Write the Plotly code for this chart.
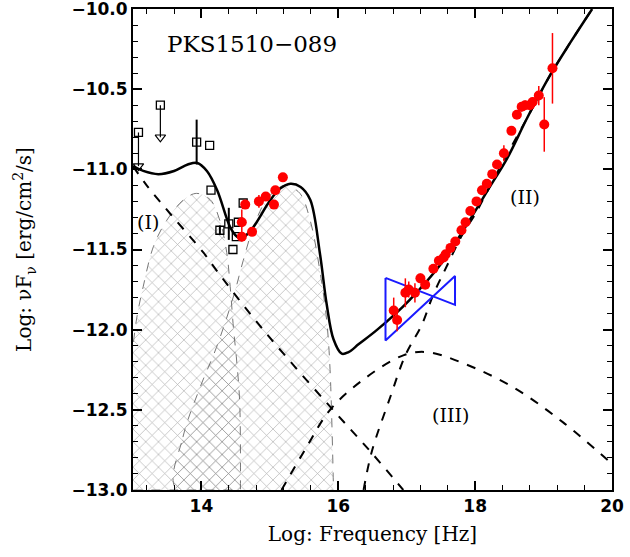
import plotly.graph_objects as go

# ---- data ----
# total model (solid)
tot_x = [13.0, 13.15, 13.37, 13.6, 13.8, 13.94, 14.08, 14.23, 14.42, 14.52, 14.59, 14.68, 14.76, 15.01, 15.15, 15.30, 15.45, 15.59, 15.73, 15.83, 15.93, 16.05, 16.15, 16.3, 16.57, 17.03, 17.52, 17.9, 18.17, 18.47, 18.76, 19.10, 19.39, 19.71]
tot_y = [-10.98, -11.01, -11.03, -11.01, -10.97, -10.96, -11.01, -11.13, -11.36, -11.42, -11.43, -11.40, -11.36, -11.19, -11.12, -11.09, -11.11, -11.19, -11.52, -11.84, -12.06, -12.15, -12.14, -12.09, -12.0, -11.82, -11.58, -11.33, -11.14, -10.93, -10.68, -10.41, -10.21, -10.0]

# component (I) synchrotron (dashed)
c1_x = [13.0, 13.2, 13.55, 14.03, 14.22, 14.71, 15.20, 15.88, 16.47, 16.95]
c1_y = [-10.98, -11.10, -11.28, -11.52, -11.63, -11.90, -12.15, -12.48, -12.76, -13.0]

# component (II) (dashed)
c2_x = [16.37, 16.49, 16.76, 16.98, 17.22, 17.39, 17.59, 17.81, 18.0, 18.2, 18.41, 18.76, 19.10, 19.39, 19.71]
c2_y = [-13.0, -12.76, -12.42, -12.16, -11.97, -11.78, -11.60, -11.41, -11.28, -11.12, -10.95, -10.68, -10.41, -10.21, -10.0]

# component (III) (dashed)
c3_x = [15.17, 15.54, 15.88, 16.37, 16.95, 17.30, 17.83, 18.56, 19.29, 19.98]
c3_y = [-13.0, -12.73, -12.50, -12.31, -12.16, -12.14, -12.21, -12.36, -12.58, -12.83]

# hatched thermal bumps
b1_x = [12.95, 13.05, 13.15, 13.30, 13.49, 13.74, 13.93, 14.13, 14.27, 14.37, 14.42, 14.47, 14.51, 14.56, 14.57]
b1_y = [-12.3, -11.94, -11.73, -11.48, -11.32, -11.19, -11.15, -11.19, -11.32, -11.52, -11.73, -12.0, -12.17, -12.46, -13.0]
b2_x = [13.64, 13.73, 13.98, 14.22, 14.47, 14.61, 14.76, 14.95, 15.15, 15.24, 15.44, 15.59, 15.73, 15.83, 15.88, 15.93]
b2_y = [-13.0, -12.67, -12.36, -12.11, -11.79, -11.57, -11.36, -11.19, -11.11, -11.10, -11.15, -11.32, -11.63, -11.94, -12.25, -13.0]
floor_y = -13.0

# archival data (open squares)
sq_x = [13.93, 14.12, 14.14, 14.27, 14.40, 14.46, 14.51, 14.54, 14.61]
sq_y = [-10.83, -10.85, -11.13, -11.38, -11.34, -11.50, -11.42, -11.33, -11.21]
sq_err = [0.14, 0.0, 0.0, 0.03, 0.10, 0.0, 0.0, 0.0, 0.0]

# upper limits
ul_x = [13.08, 13.40]
ul_y = [-10.77, -10.60]
ul_tip = [-10.98, -10.80]

# optical (red)
opt_x = [14.59, 14.59, 14.64, 14.74, 14.84, 14.94, 15.06, 15.08, 15.19]
opt_y = [-11.42, -11.33, -11.22, -11.39, -11.20, -11.17, -11.22, -11.13, -11.05]
opt_ep = [0.17, 0.0, 0.0, 0.0, 0.04, 0.0, 0.0, 0.0, 0.0]
opt_em = [0.03, 0.0, 0.0, 0.0, 0.04, 0.0, 0.0, 0.0, 0.0]

# X-ray (red)
xr_x = [16.81, 16.86, 16.98, 17.03, 17.12, 17.20, 17.27, 17.39, 17.47, 17.54, 17.57, 17.64, 17.71, 17.80, 17.86, 17.93, 18.02, 18.10, 18.17, 18.25, 18.32, 18.42, 18.53, 18.61, 18.68, 18.73, 18.80, 18.84, 18.93, 19.01, 19.13]
xr_y = [-11.88, -11.94, -11.77, -11.75, -11.77, -11.68, -11.72, -11.62, -11.57, -11.55, -11.53, -11.49, -11.45, -11.38, -11.33, -11.26, -11.20, -11.13, -11.09, -11.03, -10.97, -10.90, -10.76, -10.66, -10.61, -10.60, -10.60, -10.58, -10.54, -10.72, -10.37]
xr_err = [0.08, 0.07, 0.09, 0.05, 0.06, 0.03, 0.02, 0.02, 0.02, 0.02, 0.02, 0.02, 0.02, 0.02, 0.02, 0.02, 0.02, 0.02, 0.02, 0.02, 0.02, 0.05, 0.02, 0.02, 0.03, 0.03, 0.03, 0.03, 0.06, 0.17, 0.22]

# bowtie (spectrum envelope)
bt_x = [16.69, 17.706, 17.706, 16.69, 16.69]
bt_y = [-11.677, -11.845, -11.665, -12.068, -11.677]

x_ticks = [14, 16, 18, 20]
y_ticks = [-13.0, -12.5, -12.0, -11.5, -11.0, -10.5, -10.0]

fig = go.Figure()

hatch = dict(shape="x", size=9, solidity=0.14, fgcolor="#5e5e5e", bgcolor="rgba(0,0,0,0)")
for bx, by in [(b1_x, b1_y), (b2_x, b2_y)]:
    fig.add_trace(go.Scatter(
        x=bx + [bx[-1], bx[0]], y=by + [floor_y, floor_y], mode="lines",
        fill="toself", fillcolor="rgba(0,0,0,0)", fillpattern=hatch,
        line=dict(color="#777777", width=1, dash="dash"), line_shape="spline",
        hoverinfo="skip", showlegend=False))

for cx, cy in [(c1_x, c1_y), (c2_x, c2_y), (c3_x, c3_y)]:
    fig.add_trace(go.Scatter(x=cx, y=cy, mode="lines", line_shape="spline",
                             line=dict(color="black", width=2, dash="dash"), showlegend=False))

fig.add_trace(go.Scatter(x=tot_x, y=tot_y, mode="lines", line_shape="spline",
                         line=dict(color="black", width=2.5), showlegend=False))

fig.add_trace(go.Scatter(x=bt_x, y=bt_y, mode="lines",
                         line=dict(color="#1a1aff", width=2), showlegend=False))

# upper limits: shaft + arrowhead
for ux, uy, ut in zip(ul_x, ul_y, ul_tip):
    fig.add_trace(go.Scatter(x=[ux, ux], y=[uy, ut], mode="lines",
                             line=dict(color="black", width=1.2), showlegend=False))
fig.add_trace(go.Scatter(x=ul_x, y=ul_tip, mode="markers",
                         marker=dict(symbol="triangle-down-open", size=9, color="black", line=dict(width=1.2)),
                         showlegend=False))
fig.add_trace(go.Scatter(x=ul_x, y=ul_y, mode="markers",
                         marker=dict(symbol="square-open", size=8, color="black", line=dict(width=1.3)),
                         showlegend=False))

fig.add_trace(go.Scatter(x=sq_x, y=sq_y, mode="markers",
                         error_y=dict(type="data", array=sq_err, color="black", thickness=2, width=0),
                         marker=dict(symbol="square-open", size=8, color="black", line=dict(width=1.3)),
                         showlegend=False))

fig.add_trace(go.Scatter(x=opt_x, y=opt_y, mode="markers",
                         error_y=dict(type="data", array=opt_ep, arrayminus=opt_em, color="red", thickness=1.5, width=0),
                         marker=dict(symbol="circle", size=10, color="red"), showlegend=False))

fig.add_trace(go.Scatter(x=xr_x, y=xr_y, mode="markers",
                         error_y=dict(type="data", array=xr_err, color="red", thickness=1.5, width=0),
                         marker=dict(symbol="circle", size=10, color="red"), showlegend=False))

serif = "DejaVu Serif"
fig.add_annotation(x=14.74, y=-10.22, text="PKS1510\u2212089", showarrow=False,
                   font=dict(family=serif, size=23, color="black"))
fig.add_annotation(x=13.22, y=-11.33, text="(I)", showarrow=False,
                   font=dict(family=serif, size=19, color="black"))
fig.add_annotation(x=18.73, y=-11.17, text="(II)", showarrow=False,
                   font=dict(family=serif, size=19, color="black"))
fig.add_annotation(x=17.64, y=-12.53, text="(III)", showarrow=False,
                   font=dict(family=serif, size=19, color="black"))

axis_common = dict(showline=True, linecolor="black", linewidth=2, mirror="ticks",
                   ticks="inside", ticklen=9, tickwidth=1.5, tickcolor="black",
                   showgrid=False, zeroline=False, automargin=False, ticklabeloverflow="allow",
                   tickfont=dict(family="DejaVu Sans", size=17, color="black", weight="bold"))

fig.update_xaxes(range=[13, 20], tickvals=x_ticks, ticktext=[str(v) for v in x_ticks],
                 minor=dict(dtick=0.4, tick0=0, ticks="inside", ticklen=5, tickcolor="black", tickwidth=1.2),
                 title=dict(text="Log: Frequency [Hz]", font=dict(family=serif, size=20, color="black"), standoff=12),
                 **axis_common)
fig.update_yaxes(range=[-13, -10], tickvals=y_ticks, tickformat=".1f",
                 minor=dict(dtick=0.1, ticks="inside", ticklen=5, tickcolor="black", tickwidth=1.2),
                 title=dict(text="Log: \u03bdF<sub>\u03bd</sub> [erg/cm<sup>2</sup>/s]",
                            font=dict(family=serif, size=20, color="black"), standoff=34),
                 **axis_common)

fig.update_layout(width=630, height=557, margin=dict(l=133, r=18, t=9, b=67),
                  plot_bgcolor="white", paper_bgcolor="white", showlegend=False)

fig.write_html("out.html", config={"displayModeBar": False},
               post_script="document.body.style.margin='0';document.body.style.overflow='hidden';")
